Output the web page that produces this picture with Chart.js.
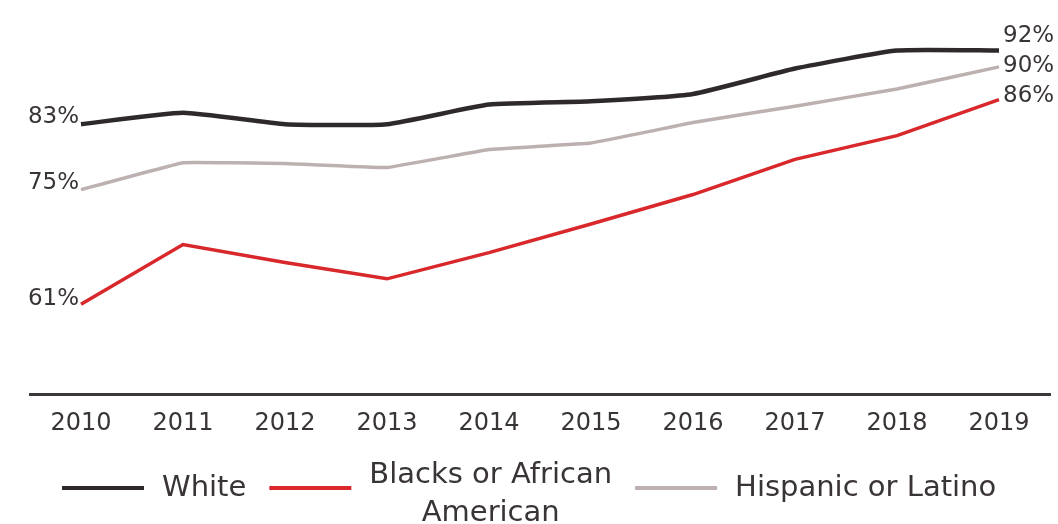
<!DOCTYPE html>
<html>
<head>
<meta charset="utf-8">
<script src="https://cdn.jsdelivr.net/npm/chart.js@4.4.1/dist/chart.umd.min.js"></script>
<style>
    html, body { margin: 0; padding: 0; background: #ffffff; }
    #wrap { width: 1058px; height: 524px; position: relative; }
</style>
</head>
<body>
<div id="wrap"><canvas id="chart"></canvas></div>
<script>
// Años y porcentajes por grupo
const years = ['2010', '2011', '2012', '2013', '2014', '2015', '2016', '2017', '2018', '2019'];
const white = [83, 84.4, 83, 83, 85.4, 85.8, 86.7, 89.8, 92, 92];
const black = [61, 68.3, 66.1, 64.1, 67.3, 70.8, 74.4, 78.7, 81.6, 86];
const hispanic = [75, 78.3, 78.2, 77.7, 79.9, 80.7, 83.2, 85.2, 87.3, 90];
const seriesNames = ['White', ['Blacks or African', 'American'], 'Hispanic or Latino'];

const FONT = '"DejaVu Sans", "Liberation Sans", sans-serif';
const TEXT = '#3a3535';

// Etiquetas de porcentaje al inicio y al final de cada línea
const endLabels = {
    id: 'endLabels',
    afterDatasetsDraw(chart) {
        const ctx = chart.ctx;
        ctx.save();
        ctx.font = '23px ' + FONT;
        ctx.fillStyle = TEXT;
        ctx.textBaseline = 'middle';
        chart.data.datasets.forEach((ds, i) => {
            const pts = chart.getDatasetMeta(i).data;
            const first = pts[0];
            const last = pts[pts.length - 1];
            ctx.textAlign = 'right';
            ctx.fillText(ds.data[0] + '%', first.x - 2, first.y + ds.startShift);
            ctx.textAlign = 'left';
            ctx.fillText(ds.data[ds.data.length - 1] + '%', last.x + 4, last.y + ds.endShift);
        });
        ctx.restore();
    }
};

// Leyenda dibujada a mano (la segunda entrada ocupa dos renglones)
const bottomLegend = {
    id: 'bottomLegend',
    afterDraw(chart) {
        const ctx = chart.ctx;
        const y = 488;
        const swatch = 82;
        let x = 62;
        ctx.save();
        ctx.font = '29px ' + FONT;
        ctx.fillStyle = TEXT;
        ctx.textBaseline = 'middle';
        chart.data.datasets.forEach((ds, i) => {
            const label = seriesNames[i];
            const lines = Array.isArray(label) ? label : [label];
            ctx.strokeStyle = ds.borderColor;
            ctx.lineWidth = 4;
            ctx.beginPath();
            ctx.moveTo(x, y);
            ctx.lineTo(x + swatch, y);
            ctx.stroke();
            x += swatch + 18;
            const w = Math.max(...lines.map(t => ctx.measureText(t).width));
            ctx.textAlign = 'center';
            const lh = 38;
            const top = lines.length > 1 ? y - 13 : y;
            lines.forEach((t, k) => ctx.fillText(t, x + w / 2, top + k * lh));
            x += w + 23;
        });
        ctx.restore();
    }
};

const ctx = document.getElementById('chart').getContext('2d');
new Chart(ctx, {
    type: 'line',
    data: {
        labels: years,
        datasets: [
            {
                label: 'White',
                data: white,
                borderColor: '#2e2a2a',
                borderWidth: 4.5,
                tension: 0.15,
                pointRadius: 0,
                startShift: -7,
                endShift: -15
            },
            {
                label: 'Blacks or African American',
                data: black,
                borderColor: '#d8282b',
                borderWidth: 3.5,
                tension: 0,
                pointRadius: 0,
                startShift: -5,
                endShift: -4
            },
            {
                label: 'Hispanic or Latino',
                data: hispanic,
                borderColor: '#bcb1b0',
                borderWidth: 3.5,
                tension: 0.05,
                pointRadius: 0,
                startShift: -7,
                endShift: -1
            }
        ]
    },
    options: {
        responsive: true,
        maintainAspectRatio: false,
        animation: false,
        layout: {
            padding: { left: 30, right: 8, top: 26, bottom: 71 }
        },
        scales: {
            x: {
                offset: true,
                grid: { display: false, drawTicks: false },
                border: { display: true, color: '#3d3838', width: 3 },
                ticks: {
                    color: TEXT,
                    padding: 15,
                    font: { family: FONT, size: 24 },
                    maxRotation: 0
                }
            },
            y: {
                display: false,
                min: 50,
                max: 95
            }
        },
        plugins: {
            legend: { display: false },
            tooltip: { enabled: false }
        }
    },
    plugins: [endLabels, bottomLegend]
});
</script>
</body>
</html>
